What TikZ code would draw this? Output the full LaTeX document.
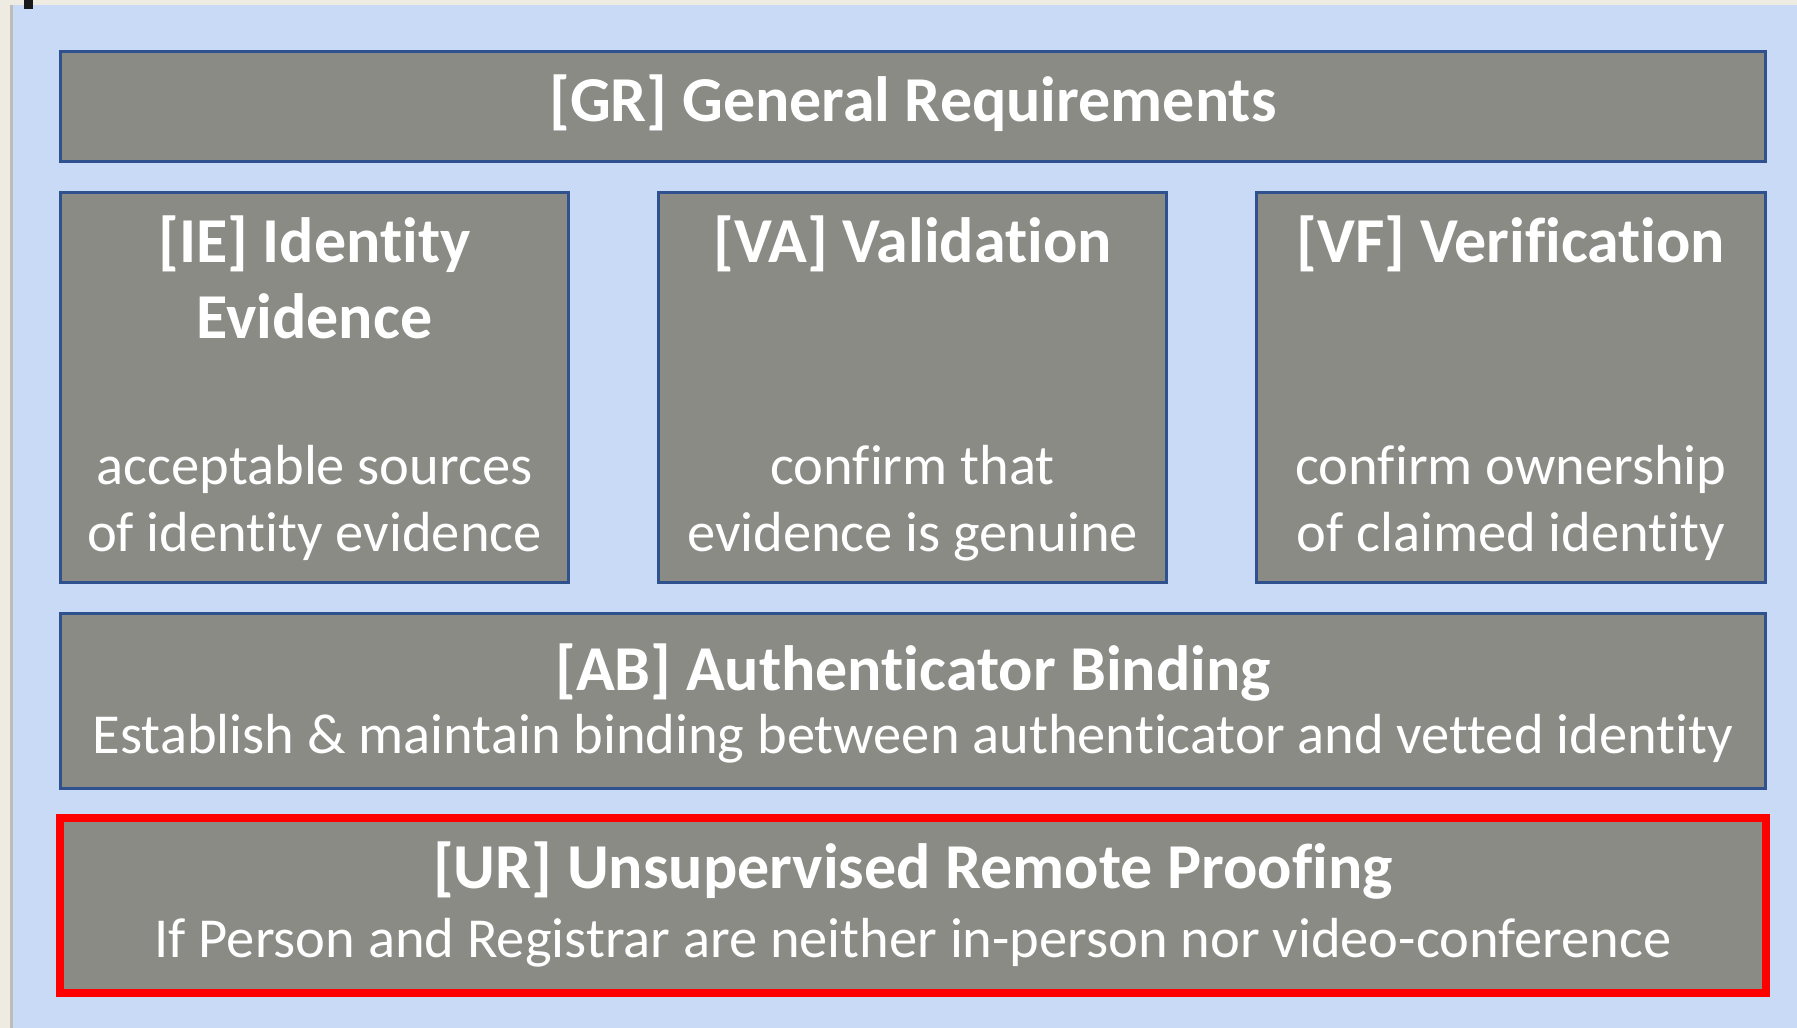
\documentclass[tikz,border=0pt]{standalone}
\usepackage{fontspec}
\setmainfont{Carlito}[Ligatures={NoCommon}]

\definecolor{pagebeige}{RGB}{238,235,227}
\definecolor{panelblue}{RGB}{200,218,246}
\definecolor{boxgrey}{RGB}{138,139,133}
\definecolor{boxblue}{RGB}{47,82,143}
\definecolor{alertred}{RGB}{255,0,0}

\newcommand{\hdrfont}{\fontsize{64}{76}\selectfont\bfseries}
\newcommand{\txtfont}{\fontsize{56.5}{67}\selectfont}

\tikzset{
    reqbox/.style={draw=boxblue, line width=3pt, fill=boxgrey, inner sep=0pt},
    urbox/.style={reqbox, draw=alertred, line width=8pt},
    hdr/.style={text=white, font=\hdrfont, align=center, anchor=base, inner sep=0pt},
    txt/.style={text=white, font=\txtfont, align=center, anchor=base, inner sep=0pt}
}

\begin{document}
\begin{tikzpicture}[x=1pt, y=-1pt]
    \useasboundingbox (0,0) rectangle (1797,1028);
    \fill[pagebeige] (0,0) rectangle (1797,1028);
    \fill[pagebeige!80!black] (10,5) rectangle (13,1028);
    \fill[panelblue] (13,5) rectangle (1797,1028);
    \fill[black!90] (24,0) rectangle (33,9);

    \node[reqbox, minimum width=1705, minimum height=110] (gr) at (913,106.5) {};
    \node[hdr] (grT) at (913,121) {[GR] General Requirements};

    \node[reqbox, minimum width=508, minimum height=390] (ie) at (314.5,387.5) {};
    \node[hdr] (ieT) at (314.5,338) {[IE] Identity\\Evidence};
    \node[txt] (ieB) at (314.5,551) {acceptable sources\\of identity evidence};

    \node[reqbox, minimum width=508, minimum height=390] (va) at (912.5,387.5) {};
    \node[hdr] (vaT) at (912.5,262) {[VA] Validation};
    \node[txt] (vaB) at (912.5,551) {confirm that\\evidence is genuine};

    \node[reqbox, minimum width=509, minimum height=390] (vf) at (1511,387.5) {};
    \node[hdr] (vfT) at (1511,262) {[VF] Verification};
    \node[txt] (vfB) at (1511,551) {confirm ownership\\of claimed identity};

    \node[reqbox, minimum width=1705, minimum height=175] (ab) at (913,701) {};
    \node[hdr] (abT) at (913,690) {[AB] Authenticator Binding};
    \node[txt] (abB) at (913,753) {Establish \& maintain binding between authenticator and vetted identity};

    \node[urbox, minimum width=1706, minimum height=175] (ur) at (913,905.5) {};
    \node[hdr] (urT) at (913,888) {[UR] Unsupervised Remote Proofing};
    \node[txt] (urB) at (913,957) {If Person and Registrar are neither in-person nor video-conference};
\end{tikzpicture}
\end{document}
